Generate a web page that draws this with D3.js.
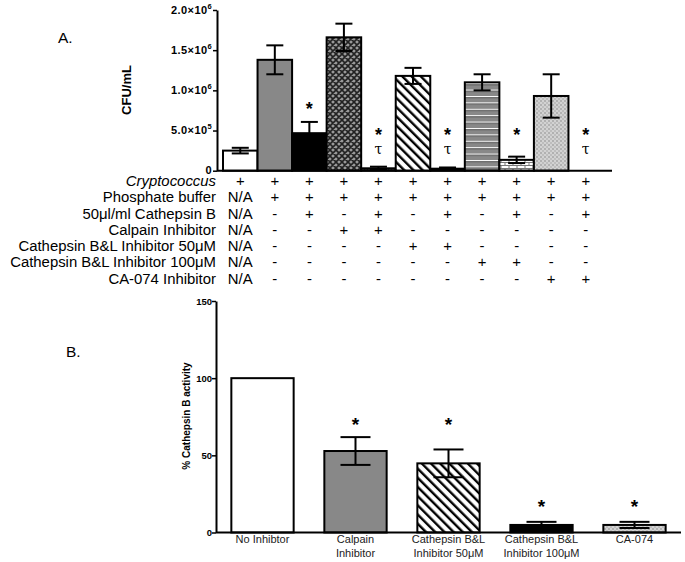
<!DOCTYPE html>
<html lang="en">
<head>
<meta charset="UTF-8">
<title>Cathepsin B figure</title>
<script src="https://d3js.org/d3.v7.min.js"></script>
<style>
  body { margin: 0; background: white; }
  svg { font-family: "Liberation Sans", Arial, sans-serif; }
</style>
</head>
<body>
<div id="chart"></div>
<script>
// ---- panel A data ----
const barsA = ["c1","c2","c3","c4","c5","c6","c7","c8","c9","c10","c11"];
const cfu   = [0.25e6, 1.38e6, 0.467e6, 1.66e6, 0.03e6, 1.18e6, 0.025e6, 1.10e6, 0.135e6, 0.93e6, 0];
const cfuErr = [0.035e6, 0.18e6, 0.14e6, 0.17e6, 0.02e6, 0.10e6, 0.015e6, 0.10e6, 0.04e6, 0.27e6, 0];
const ticksA = [0, 5e5, 1e6, 1.5e6, 2e6];
const tickLabelsA = [["0",""],["5.0×10","5"],["1.0×10","6"],["1.5×10","6"],["2.0×10","6"]];
// significance marks: index, mark, level (CFU/mL)
const marksA = [
  [2,"*",0.80e6],
  [4,"*",0.48e6],[4,"τ",0.24e6],
  [6,"*",0.48e6],[6,"τ",0.24e6],
  [8,"*",0.48e6],
  [10,"*",0.48e6],[10,"τ",0.24e6]
];
const rowLabels = ["Cryptococcus","Phosphate buffer","50μl/ml Cathepsin B","Calpain Inhibitor",
  "Cathepsin B&L Inhibitor 50μM","Cathepsin B&L Inhibitor 100μM","CA-074 Inhibitor"];
const rowCells = [
  ["+","+","+","+","+","+","+","+","+","+","+"],
  ["N/A","+","+","+","+","+","+","+","+","+","+"],
  ["N/A","-","+","-","+","-","+","-","+","-","+"],
  ["N/A","-","-","+","+","-","-","-","-","-","-"],
  ["N/A","-","-","-","-","+","+","-","-","-","-"],
  ["N/A","-","-","-","-","-","-","+","+","-","-"],
  ["N/A","-","-","-","-","-","-","-","-","+","+"]
];

// ---- panel B data ----
const inhibitors = [["No Inhibtor"],["Calpain","Inhibitor"],["Cathepsin B&L","Inhibitor 50μM"],["Cathepsin B&L","Inhibitor 100μM"],["CA-074"]];
const activity = [100, 52.8, 44.8, 4.9, 4.9];
const activityErr = [0, 9, 9, 2, 2];
const ticksB = [0, 50, 100, 150];
const starsB = [null, 72, 72, 19, 19];

// fills (style)
const fillA = ["#fff","#888","#000","url(#xhatch)","url(#xhatch)","url(#diag)","url(#diag)","url(#hstripe)","url(#brick)","url(#dots)","#fff"];
const fillB = ["#fff","#888","url(#diag)","#000","url(#dots)"];

const svg = d3.select("#chart").append("svg").attr("width",685).attr("height",562);
const defs = svg.append("defs");

let p = defs.append("pattern").attr("id","xhatch").attr("patternUnits","userSpaceOnUse").attr("width",6).attr("height",6);
p.append("rect").attr("width",6).attr("height",6).attr("fill","#999");
p.append("path").attr("d","M0,0L6,6M6,0L0,6M-1,5L1,7M5,-1L7,1M-1,1L1,-1M5,7L7,5").attr("stroke","#222").attr("stroke-width",1.6);

p = defs.append("pattern").attr("id","diag").attr("patternUnits","userSpaceOnUse").attr("width",6.5).attr("height",6.5).attr("patternTransform","rotate(-45)");
p.append("rect").attr("width",6.5).attr("height",6.5).attr("fill","#fff");
p.append("line").attr("x1",3).attr("x2",3).attr("y1",0).attr("y2",6.5).attr("stroke","#000").attr("stroke-width",2.4);

p = defs.append("pattern").attr("id","hstripe").attr("patternUnits","userSpaceOnUse").attr("width",6).attr("height",6.4);
p.append("rect").attr("width",6).attr("height",6.4).attr("fill","#888");
p.append("rect").attr("y",0).attr("width",6).attr("height",1.3).attr("fill","#fff");
p.append("rect").attr("y",1.3).attr("width",6).attr("height",0.7).attr("fill","#333");

p = defs.append("pattern").attr("id","brick").attr("patternUnits","userSpaceOnUse").attr("width",8).attr("height",6);
p.append("rect").attr("width",8).attr("height",6).attr("fill","#fff");
p.append("path").attr("d","M0,0.5H8M0,3.5H8M1,0.5V3.5M5,3.5V6.5").attr("stroke","#777").attr("stroke-width",1);

p = defs.append("pattern").attr("id","dots").attr("patternUnits","userSpaceOnUse").attr("width",4).attr("height",4);
p.append("rect").attr("width",4).attr("height",4).attr("fill","#d2d2d2");
p.append("circle").attr("cx",1).attr("cy",1).attr("r",0.7).attr("fill","#777");
p.append("circle").attr("cx",3).attr("cy",3).attr("r",0.7).attr("fill","#999");

// ---------- Panel A ----------
const xA = d3.scaleBand().domain(barsA).range([223, 603]).padding(0);
const yA = d3.scaleLinear().domain([0, 2e6]).range([170.7, 10]);
const gA = svg.append("g");

gA.append("text").attr("x",58).attr("y",43).attr("font-size",15.5).text("A.");

gA.selectAll("rect.bar").data(barsA).enter().append("rect")
  .attr("x", d => xA(d)).attr("width", xA.bandwidth())
  .attr("y", (d,i) => yA(cfu[i])).attr("height", (d,i) => yA(0) - yA(cfu[i]))
  .attr("fill", (d,i) => fillA[i]).attr("stroke", (d,i) => cfu[i] > 0 ? "#000" : "none").attr("stroke-width",2);

const errA = gA.selectAll("g.err").data(barsA.filter((d,i) => cfuErr[i] > 0)).enter().append("g");
errA.each(function(d) {
  const i = barsA.indexOf(d), cx = xA(d) + xA.bandwidth()/2, g = d3.select(this);
  const t = yA(cfu[i] + cfuErr[i]), b = yA(Math.max(0, cfu[i] - cfuErr[i]));
  g.append("line").attr("x1",cx).attr("x2",cx).attr("y1",t).attr("y2",b).attr("stroke","#000").attr("stroke-width",2);
  g.append("line").attr("x1",cx-8.5).attr("x2",cx+8.5).attr("y1",t).attr("y2",t).attr("stroke","#000").attr("stroke-width",2);
  g.append("line").attr("x1",cx-8.5).attr("x2",cx+8.5).attr("y1",b).attr("y2",b).attr("stroke","#000").attr("stroke-width",2);
});

gA.append("line").attr("x1",217).attr("x2",612).attr("y1",yA(0)).attr("y2",yA(0)).attr("stroke","#000").attr("stroke-width",2);
const yAxisA = gA.append("g").attr("transform","translate(217,0)")
  .call(d3.axisLeft(yA).tickValues(ticksA).tickSize(4).tickSizeOuter(0).tickFormat(""));
yAxisA.select(".domain").attr("stroke-width",2);
yAxisA.selectAll(".tick line").attr("stroke-width",1.5);
ticksA.forEach((v,i) => {
  const t = gA.append("text").attr("x",212).attr("y",yA(v)+3.5).attr("text-anchor","end")
    .attr("font-size",11).attr("font-weight","bold").attr("letter-spacing",0.4);
  t.append("tspan").text(tickLabelsA[i][0]);
  if (tickLabelsA[i][1]) t.append("tspan").attr("dy",-5).attr("font-size",7.5).text(tickLabelsA[i][1]);
});
gA.append("text").attr("transform","translate(131,90) rotate(-90)").attr("text-anchor","middle")
  .attr("font-size",13).attr("font-weight","bold").text("CFU/mL");

marksA.forEach(m => {
  const cx = xA(barsA[m[0]]) + xA.bandwidth()/2;
  if (m[1] === "*") gA.append("text").attr("x",cx).attr("y",yA(m[2])+9).attr("text-anchor","middle")
    .attr("font-size",18).attr("font-weight","bold").text("*");
  else gA.append("text").attr("x",cx).attr("y",yA(m[2])+3).attr("text-anchor","middle")
    .attr("font-size",14).attr("font-family","DejaVu Serif, serif").text(m[1]);
});

// table
const rowY = d3.scalePoint().domain(rowLabels).range([186, 283.5]);
rowLabels.forEach((lab, r) => {
  gA.append("text").attr("x",216).attr("y",rowY(lab)).attr("text-anchor","end").attr("font-size",14.9)
    .attr("font-style", r === 0 ? "italic" : "normal").text(lab);
  rowCells[r].forEach((c, j) => {
    gA.append("text").attr("x", xA(barsA[j]) + xA.bandwidth()/2).attr("y", rowY(lab))
      .attr("text-anchor","middle").attr("font-size",14.9).text(c);
  });
});

// ---------- Panel B ----------
const keysB = inhibitors.map(d => d.join(" "));
const xB = d3.scaleBand().domain(keysB).range([216, 681]).paddingInner(0.33).paddingOuter(0.165);
const yB = d3.scaleLinear().domain([0,150]).range([532.5, 301]);
const gB = svg.append("g");
gB.append("text").attr("x",66).attr("y",357).attr("font-size",15.5).text("B.");

gB.selectAll("rect.bar").data(keysB).enter().append("rect")
  .attr("x", d => xB(d)).attr("width", xB.bandwidth())
  .attr("y", (d,i) => yB(activity[i])).attr("height", (d,i) => yB(0) - yB(activity[i]))
  .attr("fill", (d,i) => fillB[i]).attr("stroke","#000").attr("stroke-width",2);

keysB.forEach((k,i) => {
  if (!activityErr[i]) return;
  const cx = xB(k) + xB.bandwidth()/2;
  const t = yB(activity[i] + activityErr[i]), b = yB(Math.max(0, activity[i] - activityErr[i]));
  gB.append("line").attr("x1",cx).attr("x2",cx).attr("y1",t).attr("y2",b).attr("stroke","#000").attr("stroke-width",2);
  [t,b].forEach(yy => gB.append("line").attr("x1",cx-15).attr("x2",cx+15).attr("y1",yy).attr("y2",yy).attr("stroke","#000").attr("stroke-width",2));
  if (starsB[i] != null) gB.append("text").attr("x",cx).attr("y",yB(starsB[i])+10).attr("text-anchor","middle")
    .attr("font-size",19).attr("font-weight","bold").text("*");
});

gB.append("line").attr("x1",216).attr("x2",681).attr("y1",yB(0)).attr("y2",yB(0)).attr("stroke","#000").attr("stroke-width",2);
const yAxisB = gB.append("g").attr("transform","translate(216,0)")
  .call(d3.axisLeft(yB).tickValues(ticksB).tickSize(4).tickSizeOuter(0));
yAxisB.select(".domain").attr("stroke-width",2);
yAxisB.selectAll(".tick line").attr("stroke-width",1.5);
yAxisB.selectAll(".tick text").attr("font-size",9.5).attr("font-weight","bold").attr("font-family","Liberation Sans, Arial").attr("x",-4).attr("fill","#000");

inhibitors.forEach((lines,i) => {
  const cx = xB(keysB[i]) + xB.bandwidth()/2;
  lines.forEach((ln,j) => gB.append("text").attr("x",cx).attr("y",543 + j*14).attr("text-anchor","middle")
    .attr("font-size",11).attr("fill","#222").text(ln));
});
gB.append("text").attr("transform","translate(190,416) rotate(-90)").attr("text-anchor","middle")
  .attr("font-size",10).attr("font-weight","bold").text("% Cathepsin B activity");
</script>
</body>
</html>
